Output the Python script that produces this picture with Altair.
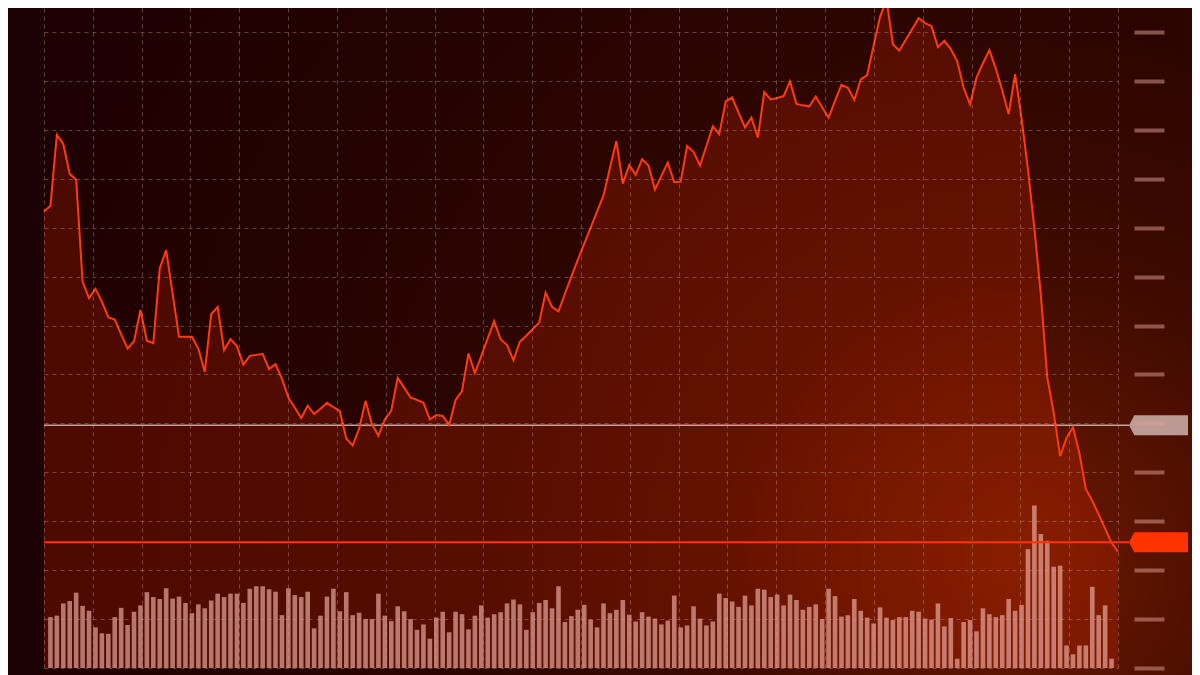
import altair as alt
import pandas as pd

# ---- data (price in grid units, volume in grid units) ----
price = [9.33, 9.45, 10.90, 10.71, 10.10, 9.98, 7.90, 7.56, 7.75, 7.49,
         7.17, 7.12, 6.82, 6.53, 6.68, 7.32, 6.69, 6.64, 8.17, 8.54,
         7.65, 6.77, 6.77, 6.77, 6.53, 6.05, 7.23, 7.38, 6.50, 6.72,
         6.58, 6.20, 6.38, 6.40, 6.42, 6.11, 6.21, 5.91, 5.53, 5.32,
         5.11, 5.36, 5.19, 5.30, 5.42, 5.33, 5.25, 4.69, 4.55, 4.89,
         5.46, 4.98, 4.75, 5.08, 5.26, 5.93, 5.73, 5.53, 5.48, 5.42,
         5.08, 5.17, 5.15, 4.97, 5.48, 5.66, 6.43, 6.03, 6.38, 6.74,
         7.09, 6.72, 6.60, 6.29, 6.67, 6.79, 6.93, 7.06, 7.67, 7.38,
         7.29, 7.65, 8.00, 8.34, 8.67, 9.00, 9.33, 9.66, 10.22, 10.77,
         9.90, 10.28, 10.08, 10.40, 10.27, 9.78, 10.06, 10.33, 9.93, 9.94,
         10.67, 10.55, 10.27, 10.67, 11.07, 10.91, 11.58, 11.66, 11.35, 11.05,
         11.25, 10.84, 11.77, 11.62, 11.65, 11.69, 11.99, 11.53, 11.50, 11.48,
         11.68, 11.46, 11.25, 11.59, 11.92, 11.86, 11.61, 12.03, 12.12, 12.72,
         13.31, 13.66, 12.75, 12.62, 12.84, 13.06, 13.28, 13.18, 13.12, 12.69,
         12.82, 12.65, 12.40, 11.86, 11.52, 12.07, 12.36, 12.63, 12.25, 11.81,
         11.32, 12.14, 11.24, 10.19, 8.98, 7.63, 5.94, 5.22, 4.33, 4.70,
         4.92, 4.39, 3.66, 3.42, 3.14, 2.85, 2.56, 2.38]

volume = [1.04, 1.07, 1.32, 1.37, 1.54, 1.27, 1.17, 0.83, 0.71, 0.70,
          1.04, 1.23, 0.88, 1.15, 1.28, 1.55, 1.45, 1.41, 1.63, 1.42,
          1.46, 1.33, 1.12, 1.30, 1.22, 1.38, 1.52, 1.45, 1.52, 1.52,
          1.33, 1.62, 1.67, 1.67, 1.61, 1.56, 1.08, 1.63, 1.49, 1.45,
          1.56, 0.81, 1.07, 1.46, 1.62, 1.16, 1.55, 1.08, 1.13, 1.00,
          1.00, 1.52, 1.07, 0.96, 1.26, 1.16, 1.00, 0.78, 0.89, 0.60,
          1.03, 1.15, 0.73, 1.15, 1.10, 0.79, 1.07, 1.28, 1.03, 1.10,
          1.14, 1.32, 1.40, 1.30, 0.78, 1.14, 1.33, 1.39, 1.22, 1.67,
          0.94, 1.06, 1.19, 1.29, 0.99, 0.83, 1.32, 1.12, 1.19, 1.39,
          1.09, 0.95, 1.14, 1.05, 1.01, 0.89, 0.97, 1.48, 0.83, 0.87,
          1.26, 1.01, 0.87, 0.95, 1.52, 1.43, 1.36, 1.25, 1.48, 1.28,
          1.62, 1.60, 1.45, 1.50, 1.28, 1.50, 1.39, 1.19, 1.25, 1.30,
          1.00, 1.62, 1.47, 1.05, 1.08, 1.41, 1.17, 1.03, 0.91, 1.24,
          1.03, 0.98, 1.04, 1.04, 1.17, 1.15, 1.01, 0.99, 1.32, 0.85,
          1.02, 0.19, 0.94, 0.98, 0.75, 1.22, 1.10, 1.04, 1.08, 1.41,
          1.17, 1.29, 2.43, 3.32, 2.74, 2.60, 2.07, 2.09, 0.46, 0.28,
          0.46, 0.46, 1.66, 1.08, 1.28, 0.19]

ref_level = 4.96      # grey reference line
last_level = 2.57     # red last-price line

y_ticks = list(range(14))
n_last = len(price) - 1
x_grid = [k * n_last / 22 for k in range(23)]

df_price = pd.DataFrame({"i": list(range(len(price))), "price": price})
df_vol = pd.DataFrame({"i": list(range(1, len(volume) + 1)), "volume": volume})

W, H = 1074, 660
PAD_R = 74
xs = alt.Scale(domain=[0, n_last], nice=False, zero=False, padding=0)
ys = alt.Scale(domain=[0, 13.49], nice=False, zero=False)

grad = alt.RadialGradient(
    gradient="radial",
    x1=0.850, y1=0.690, r1=0,
    x2=0.850, y2=0.690, r2=0.915,
    stops=[
        alt.GradientStop(offset=0.0, color="#6b1900"),
        alt.GradientStop(offset=0.124, color="#591300"),
        alt.GradientStop(offset=0.286, color="#3e0a00"),
        alt.GradientStop(offset=0.524, color="#2c0500"),
        alt.GradientStop(offset=0.762, color="#240201"),
        alt.GradientStop(offset=1.0, color="#1f0002"),
    ],
)

x_axis = alt.Axis(values=x_grid, grid=True, labels=False, ticks=False,
                  domain=False, title=None, zindex=1)
y_grid_axis = alt.Axis(orient="left", values=y_ticks, grid=True, labels=False,
                       ticks=False, domain=False, title=None, zindex=1)
y_right_axis = alt.Axis(orient="right", values=y_ticks, grid=False, labels=False,
                        ticks=True, tickSize=30, tickWidth=4, tickColor="#e0a098",
                        tickOpacity=0.5, offset=16, domain=False, title=None, zindex=1)

one = alt.Data(values=[{"a": 1}])

bg = alt.Chart(one).mark_rect(color=grad, strokeWidth=0).encode(
    x=alt.value(0), x2=alt.value(W + PAD_R), y=alt.value(0), y2=alt.value(667)
)

area = alt.Chart(df_price).mark_area(color="#ff3300", opacity=0.2).encode(
    x=alt.X("i:Q", scale=xs, axis=x_axis),
    y=alt.Y("price:Q", scale=ys, axis=y_grid_axis),
)

bars = alt.Chart(df_vol).mark_bar(size=4.6, color="#f0b0a8", opacity=0.65).encode(
    x=alt.X("i:Q", scale=xs, axis=None),
    y=alt.Y("volume:Q", scale=ys, axis=None),
)

grey_rule = alt.Chart(one).mark_rule(
    color="#cfb4af", strokeWidth=1.5, opacity=0.9
).encode(y=alt.Y(datum=ref_level, scale=ys, axis=None), x=alt.value(0), x2=alt.value(1085))

red_rule = alt.Chart(one).mark_rule(
    color="#ff3300", strokeWidth=2
).encode(y=alt.Y(datum=last_level, scale=ys, axis=None), x=alt.value(0), x2=alt.value(1085))

line = alt.Chart(df_price).mark_line(color="#ff3a0d", strokeWidth=2).encode(
    x=alt.X("i:Q", scale=xs, axis=None),
    y=alt.Y("price:Q", scale=ys, axis=y_right_axis),
)

tag_shape = "M-1,0L-0.82,-0.34L1,-0.34L1,0.34L-0.82,0.34Z"

grey_tag = alt.Chart(one).mark_point(
    shape=tag_shape, size=3481, filled=True, strokeWidth=0, color="#cbaea9", opacity=0.88
).encode(y=alt.Y(datum=ref_level, scale=ys, axis=None), x=alt.value(1114.5))

red_tag = alt.Chart(one).mark_point(
    shape=tag_shape, size=3481, filled=True, strokeWidth=0, color="#ff3300", opacity=1
).encode(y=alt.Y(datum=last_level, scale=ys, axis=None), x=alt.value(1114.5))

chart = alt.layer(
    bg, area, bars, grey_rule, red_rule, line, grey_tag, red_tag
).resolve_axis(x="independent", y="independent").properties(
    width=W, height=H,
    background="#1c0204",
    padding={"left": 36, "top": 0, "right": PAD_R, "bottom": 7},
    autosize=alt.AutoSizeParams(type="none"),
).configure_axis(
    gridColor="#d09890", gridOpacity=0.4, gridDash=[4, 4], gridWidth=1
).configure_view(stroke=None)

chart.save("out.html", embed_options={"renderer": "svg", "actions": False})
